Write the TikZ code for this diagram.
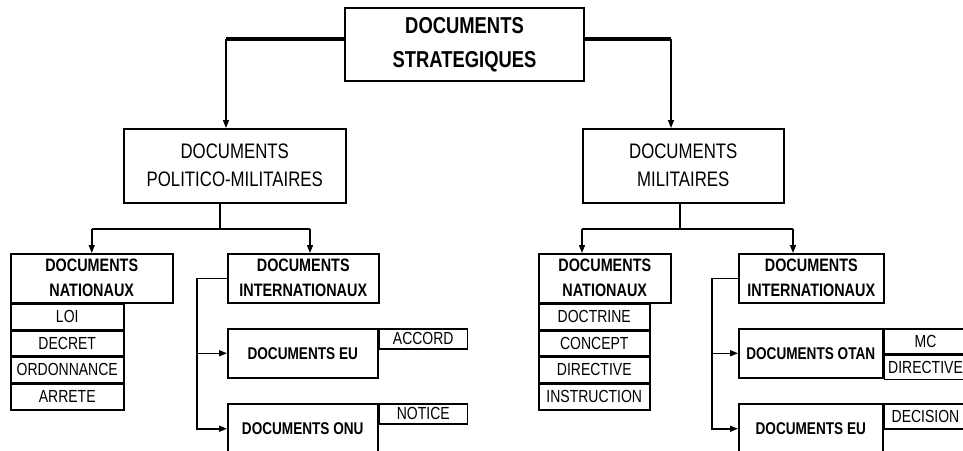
\documentclass[tikz,border=0pt]{standalone}
\usepackage{fontspec}
\setmainfont[FakeStretch=0.8]{Liberation Sans}
\usepackage{tikz}
\usetikzlibrary{arrows.meta}

\tikzset{
  box/.style={draw, line width=1.5pt, inner sep=0pt, anchor=north west, align=center},
  head/.style={box, font=\bfseries\fontsize{18}{25}\selectfont},
  sub/.style={box, font=\bfseries\fontsize{17}{20}\selectfont},
  item/.style={box, font=\fontsize{17.5}{20}\selectfont},
  heavy/.style={line width=3.5pt},
  bar/.style={line width=2.5pt},
  link/.style={line width=1.5pt},
  arr/.style={line width=1.5pt, -{Triangle[length=8pt,width=6pt]}}
}

\begin{document}
\begin{tikzpicture}[x=1pt, y=-1pt]
  \clip (0,0) rectangle (963,450);

  % Niveau 1
  \node[box, line width=2pt, minimum width=239pt, minimum height=73pt,
        font=\bfseries\fontsize{23}{34}\selectfont] (top) at (344,7)
        {DOCUMENTS\\STRATEGIQUES};

  % Niveau 2
  \node[box, minimum width=222pt, minimum height=74pt,
        font=\fontsize{21}{28}\selectfont] (pm) at (123,128)
        {DOCUMENTS\\POLITICO-MILITAIRES};
  \node[box, minimum width=201pt, minimum height=74pt,
        font=\fontsize{21}{28}\selectfont] (mil) at (582,128)
        {DOCUMENTS\\MILITAIRES};

  % Niveau 3, gauche
  \node[head, minimum width=162pt, minimum height=49pt] (natl) at (10,253) {DOCUMENTS\\NATIONAUX};
  \node[item, minimum width=113pt, minimum height=25pt] (loi) at (natl.south west) {LOI};
  \node[item, minimum width=113pt, minimum height=25pt] (decret) at (loi.south west) {DECRET};
  \node[item, minimum width=113pt, minimum height=25pt] (ordo) at (decret.south west) {ORDONNANCE};
  \node[item, minimum width=113pt, minimum height=26pt] (arrete) at (ordo.south west) {ARRETE};

  \node[head, minimum width=151pt, minimum height=49pt] (intl) at (227,253) {DOCUMENTS\\INTERNATIONAUX};
  \node[sub, minimum width=150pt, minimum height=49pt] (eul) at (227,328) {DOCUMENTS EU};
  \node[item, minimum width=88pt, minimum height=20pt] (accord) at (eul.north east) {ACCORD};
  \node[sub, minimum width=150pt, minimum height=50pt] (onu) at (227,403) {DOCUMENTS ONU};
  \node[item, minimum width=88pt, minimum height=20pt] (notice) at (onu.north east) {NOTICE};

  % Niveau 3, droite
  \node[head, minimum width=132pt, minimum height=49pt] (natr) at (538,253) {DOCUMENTS\\NATIONAUX};
  \node[item, minimum width=111pt, minimum height=25pt] (doctrine) at (natr.south west) {DOCTRINE};
  \node[item, minimum width=111pt, minimum height=25pt] (concept) at (doctrine.south west) {CONCEPT};
  \node[item, minimum width=111pt, minimum height=25pt] (dirn) at (concept.south west) {DIRECTIVE};
  \node[item, minimum width=111pt, minimum height=26pt] (instr) at (dirn.south west) {INSTRUCTION};

  \node[head, minimum width=145pt, minimum height=49pt] (intr) at (738,253) {DOCUMENTS\\INTERNATIONAUX};
  \node[sub, minimum width=144pt, minimum height=49pt] (otan) at (738,328) {DOCUMENTS OTAN};
  \node[item, minimum width=82.5pt, minimum height=25pt] (mc) at (otan.north east) {MC};
  \node[item, minimum width=82.5pt, minimum height=24pt] (diro) at (mc.south west) {DIRECTIVE};
  \node[sub, minimum width=144pt, minimum height=50pt] (eur) at (738,403) {DOCUMENTS EU};
  \node[item, minimum width=82.5pt, minimum height=25pt] (decision) at (eur.north east) {DECISION};

  % Points de jonction
  \coordinate (tl) at (226,39);
  \coordinate (tr) at (671,39);
  \coordinate (pl) at (220,229);
  \coordinate (pli) at (310,229);
  \coordinate (ml) at (680,229);
  \coordinate (mln) at (582,229);
  \coordinate (mli) at (793,229);
  \coordinate (sl) at (197,0);
  \coordinate (sr) at (712,0);

  % Liens niveau 1 -> 2
  \draw[heavy] (top.west |- tl) -- (tl);
  \draw[arr] (tl) -- (tl |- pm.north);
  \draw[heavy] (top.east |- tr) -- (tr);
  \draw[arr] (tr) -- (tr |- mil.north);

  % Liens niveau 2 -> 3
  \draw[link] (pl |- pm.south) -- (pl);
  \draw[bar] (natl.north |- pl) -- (pli);
  \draw[arr] (natl.north |- pl) -- (natl.north);
  \draw[arr] (pli) -- (pli |- intl.north);

  \draw[link] (ml |- mil.south) -- (ml);
  \draw[bar] (mln) -- (mli);
  \draw[arr] (mln) -- (mln |- natr.north);
  \draw[arr] (mli) -- (mli |- intr.north);

  % Documents internationaux
  \draw[arr] (intl.west) -- (sl |- intl.west) |- (onu.west);
  \draw[arr] (sl |- eul.west) -- (eul.west);
  \draw[arr] (intr.west) -- (sr |- intr.west) |- (eur.west);
  \draw[arr] (sr |- otan.west) -- (otan.west);
\end{tikzpicture}
\end{document}
